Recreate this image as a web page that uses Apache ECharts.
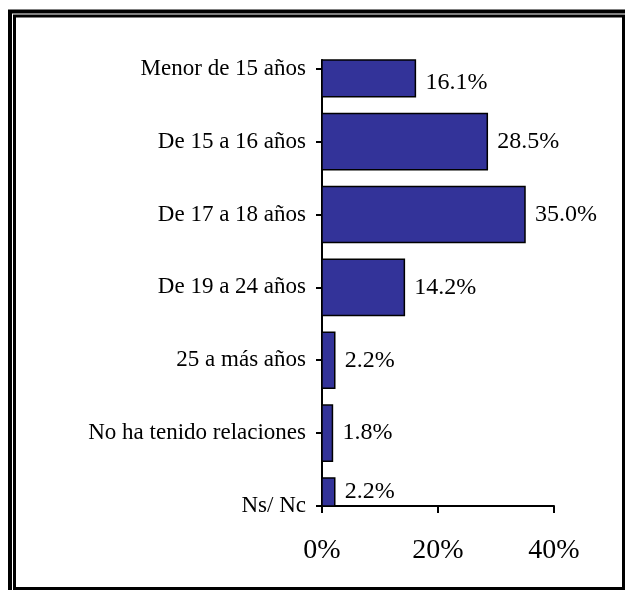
<!DOCTYPE html>
<html>
<head>
<meta charset="utf-8">
<script src="https://cdn.jsdelivr.net/npm/echarts@6/dist/echarts.min.js"></script>
<style>
  html, body { margin: 0; padding: 0; background: #fff; }
  #chart { width: 625px; height: 590px; }
</style>
</head>
<body>
<div id="chart"></div>
<script>
// edad de inicio de relaciones sexuales
const categories = ['Menor de 15 años', 'De 15 a 16 años', 'De 17 a 18 años', 'De 19 a 24 años', '25 a más años', 'No ha tenido relaciones', 'Ns/ Nc'];
const values = [16.1, 28.5, 35.0, 14.2, 2.2, 1.8, 2.2];
const xTicks = [0, 20, 40];

const serif = 'Liberation Serif, Times New Roman, serif';
const barSize = 0.77;

let myChart = echarts.init(document.getElementById('chart'));

const data = values.map((v, i) => [v, i]);
const catIdx = categories.map((c, i) => i);

myChart.setOption({
  animation: false,
  backgroundColor: '#fff',
  graphic: [
    // marco doble
    { type: 'rect', shape: { x: 10, y: 11.5, width: 700, height: 700 }, style: { fill: 'none', stroke: '#000', lineWidth: 4 }, silent: true },
    { type: 'rect', shape: { x: 14.5, y: 16, width: 609, height: 572.5 }, style: { fill: 'none', stroke: '#000', lineWidth: 3 }, silent: true }
  ],
  grid: {
    left: 322,
    top: 60,
    width: 232,
    height: 446
  },
  xAxis: {
    type: 'value',
    min: xTicks[0],
    max: xTicks[xTicks.length - 1],
    interval: 20,
    splitLine: { show: false },
    axisLine: { show: true, onZero: false, lineStyle: { color: '#000', width: 2 } },
    axisTick: { show: true, length: 7, lineStyle: { color: '#000', width: 2 } },
    axisLabel: {
      margin: 31,
      color: '#000',
      fontFamily: serif,
      fontSize: 28,
      formatter: '{value}%'
    }
  },
  yAxis: {
    type: 'value',
    inverse: true,
    min: -0.12,
    max: 6,
    splitLine: { show: false },
    axisLine: { show: true, onZero: false, lineStyle: { color: '#000', width: 2 } },
    axisTick: { show: true, length: 6, customValues: catIdx, lineStyle: { color: '#000', width: 2 } },
    axisLabel: {
      customValues: catIdx,
      margin: 16,
      color: '#000',
      fontFamily: serif,
      fontSize: 23,
      formatter: (v) => categories[Math.round(v)]
    }
  },
  series: [{
    type: 'custom',
    encode: { x: 0, y: 1 },
    data: data,
    renderItem: (params, api) => {
      const v = api.value(0);
      const i = api.value(1);
      const start = api.coord([0, i]);
      const end = api.coord([v, i]);
      const h = api.size([0, barSize])[1];
      const cs = params.coordSys;
      const rect = echarts.graphic.clipRectByRect(
        { x: start[0], y: start[1] - h / 2, width: end[0] - start[0], height: h },
        { x: cs.x, y: cs.y, width: cs.width, height: cs.height }
      );
      if (!rect) return;
      return {
        type: 'group',
        children: [{
          type: 'rect',
          shape: rect,
          style: { fill: '#333399', stroke: '#000', lineWidth: 1.5 }
        }, {
          type: 'text',
          x: rect.x + rect.width + 10,
          y: rect.y + rect.height / 2 + (i === 0 ? 4 : 0),
          style: {
            text: v.toFixed(1) + '%',
            fill: '#000',
            font: '24px ' + serif,
            verticalAlign: 'middle',
            align: 'left'
          }
        }]
      };
    }
  }]
});
</script>
</body>
</html>
